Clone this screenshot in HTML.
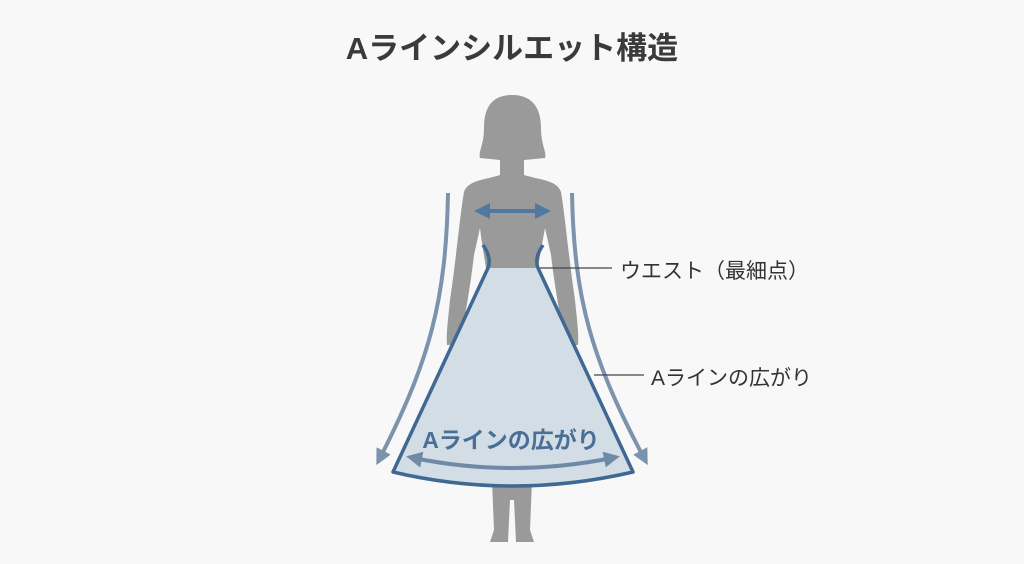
<!DOCTYPE html>
<html><head><meta charset="utf-8"><style>
body{margin:0;background:#f8f8f8;width:1024px;height:559px;overflow:hidden;font-family:"Liberation Sans","Noto Sans CJK JP",sans-serif}
</style></head><body>
<svg width="1024" height="559" viewBox="0 0 1024 559" xmlns="http://www.w3.org/2000/svg">
<defs>
<marker id="ah" markerWidth="4" markerHeight="4" refX="2" refY="2" orient="auto" markerUnits="strokeWidth"><path d="M0,0 L4,2 L0,4 Z" fill="#7b93ac"/></marker>
<marker id="bh" markerWidth="4" markerHeight="4" refX="2" refY="2" orient="auto-start-reverse" markerUnits="strokeWidth"><path d="M0,0 L4,2 L0,4 Z" fill="#5078a0"/></marker>
<marker id="ch" markerWidth="4" markerHeight="4" refX="2" refY="2" orient="auto-start-reverse" markerUnits="strokeWidth"><path d="M0,0 L4,2 L0,4 Z" fill="#6f8aa6"/></marker>
</defs>
<text x="512" y="59" text-anchor="middle" font-size="31" font-weight="bold" fill="#3a3a3a" font-family="Liberation Sans, Noto Sans CJK JP, sans-serif">Aラインシルエット構造</text>
<g fill="#9a9a9a">
<path d="M512,95 C490,95 484,110 484,128 C484,145 478,152 480,158 L500,160 L500,178 L524,178 L524,160 L545,158 C547,152 541,145 541,128 C541,110 534,95 512,95 Z"/>
<path d="M500,175 C485,180 468,180 464,192 C460,215 456,260 450,300 C448,320 446,335 447,345 L460,345 C464,320 470,290 474,255 L480,228 C482,245 484,255 486,268 L538,268 C540,255 542,245 545,228 L551,255 C555,290 561,320 565,345 L578,345 C579,335 577,320 575,300 C569,260 565,215 561,192 C557,180 540,180 524,175 Z"/>
<path d="M492,480 L532,480 L530,530 L534,542 L516,542 L514,500 L510,500 L508,542 L490,542 L494,530 Z"/>
</g>
<path d="M488,268 L538,268 L633,472 Q512,500 393,472 Z" fill="#d3dde6"/>
<path d="M483,245 Q492,258 488,268 L393,472 Q512,500 633,472 L538,268 Q534,258 543,245" fill="none" stroke="#3f6893" stroke-width="3.5" stroke-linejoin="round"/>
<path d="M448,193 C446,300 430,360 380,458" fill="none" stroke="#7b93ac" stroke-width="4" marker-end="url(#ah)"/>
<path d="M572,193 C574,300 592,360 644,458" fill="none" stroke="#7b93ac" stroke-width="4" marker-end="url(#ah)"/>
<line x1="482" y1="211" x2="543" y2="211" stroke="#5078a0" stroke-width="4" marker-start="url(#bh)" marker-end="url(#bh)"/>
<path d="M414,458 Q512,478 612,458" fill="none" stroke="#6f8aa6" stroke-width="4" marker-start="url(#ch)" marker-end="url(#ch)"/>
<text x="511" y="448" text-anchor="middle" font-size="23" font-weight="bold" fill="#4a6f96" font-family="Liberation Sans, Noto Sans CJK JP, sans-serif">Aラインの広がり</text>
<line x1="540" y1="268" x2="612" y2="268" stroke="#444" stroke-width="1.2"/>
<text x="620" y="278" font-size="21" fill="#333" font-family="Liberation Sans, Noto Sans CJK JP, sans-serif">ウエスト（最細点）</text>
<line x1="594" y1="375" x2="644" y2="375" stroke="#444" stroke-width="1.2"/>
<text x="651" y="385" font-size="21" fill="#333" font-family="Liberation Sans, Noto Sans CJK JP, sans-serif">Aラインの広がり</text>
</svg>
</body></html>
